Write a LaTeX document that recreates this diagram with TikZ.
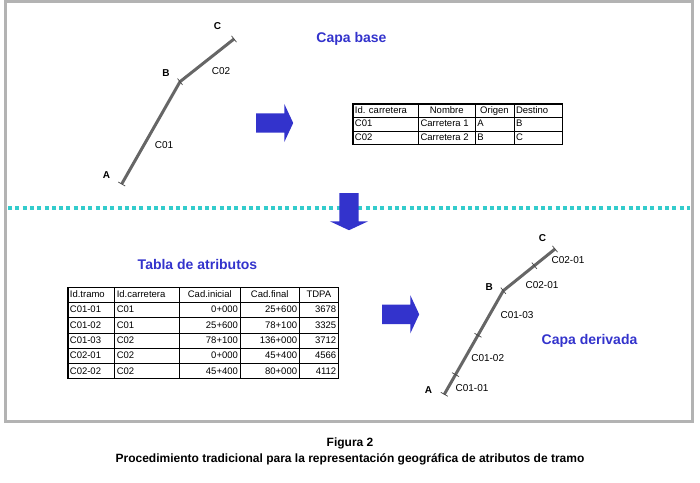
\documentclass[tikz,border=0pt]{standalone}
\usepackage{fontspec}
\setmainfont{Liberation Sans}
\usepackage{array}
\usetikzlibrary{calc}
\usetikzlibrary{shapes.arrows}
\definecolor{capablue}{RGB}{51,51,204}
\definecolor{framegray}{RGB}{179,179,179}
\definecolor{roadgray}{RGB}{102,102,102}
\definecolor{dotcyan}{RGB}{51,204,204}
\newcommand{\celc}[1]{\hspace*{\fill}#1\hspace*{\fill}}
\newcommand{\celr}[1]{\hspace*{\fill}#1}
\tikzset{
    outerframe/.style = {draw=framegray, line width=3pt},
    road/.style = {draw=roadgray, line width=3pt, line join=round},
    roadtick/.style = {draw=roadgray!70!black, line width=0.7pt},
    divider/.style = {draw=dotcyan, line width=4pt, dash pattern=on 4pt off 3.3pt},
    blockarrow/.style = {single arrow, fill=capablue, draw=none, inner xsep=0pt, inner ysep=9.5pt,
        minimum height=37pt, single arrow head extend=9.5pt, single arrow tip angle=130, anchor=tail},
    pointlabel/.style = {font=\bfseries\fontsize{10}{12}\selectfont, text=black, anchor=base, inner sep=0pt},
    seglabel/.style = {font=\fontsize{10}{12}\selectfont, text=black, anchor=base, inner sep=0pt},
    layertitle/.style = {font=\bfseries\fontsize{14}{16}\selectfont, text=capablue, anchor=base, inner sep=0pt},
    datatable/.style = {draw=black, line width=1.2pt, inner sep=0pt, anchor=north west},
    figcaption/.style = {font=\bfseries\fontsize{12}{13}\selectfont, anchor=base, inner sep=0pt}
}

\begin{document}
\begin{tikzpicture}[x=1pt, y=-1pt]
\useasboundingbox (0,0) rectangle (700,482);
\draw[outerframe] (5.5,1.5) rectangle (692.5,421.5);

% capa base
\coordinate (uA) at (121.7,184);
\coordinate (uB) at (180,81.7);
\coordinate (uC) at (234,39);
\draw[road] (uA) -- (uB) -- (uC);
\foreach \a/\b/\f in {uA/uB/0, uB/uC/0, uC/uB/0}
    \draw[roadtick] ($(\a)!\f!(\b)!4pt!90:(\b)$) -- ($(\a)!\f!(\b)!4pt!-90:(\b)$);
\node[pointlabel] (uAl) at (106.5,178) {A};
\node[pointlabel] (uBl) at (166,76) {B};
\node[pointlabel] (uCl) at (217.5,29) {C};
\node[seglabel] (uC01) at (164,148) {C01};
\node[seglabel] (uC02) at (221,74.3) {C02};
\node[layertitle] (base) at (351.5,42) {Capa base};

\node[blockarrow] (arrTop) at (256,123) {};

\node[datatable] (tabBase) at (352.3,103.3) {%
  \fontsize{9.5}{10}\selectfont\setlength\tabcolsep{2pt}\renewcommand\arraystretch{1.33}%
  \begin{tabular}{p{61.3pt}|p{52.3pt}|p{34.3pt}|p{44.7pt}}
    Id. carretera & \celc{Nombre} & \celc{Origen} & Destino \\\hline
    C01 & Carretera 1 & A & B \\\hline
    C02 & Carretera 2 & B & C
  \end{tabular}};

\draw[divider] (8,207.7) -- (690,207.7);
\node[blockarrow, rotate=-90] (arrDown) at (349,193) {};

% tabla de atributos
\node[layertitle] (tabla) at (197.5,269) {Tabla de atributos};
\node[datatable] (tabAttr) at (67.3,286.5) {%
  \fontsize{9.5}{10}\selectfont\setlength\tabcolsep{2pt}\renewcommand\arraystretch{1.49}%
  \begin{tabular}{p{42.5pt}|p{60.5pt}|p{56.2pt}|p{54.8pt}|p{34.7pt}}
    Id.tramo & Id.carretera & \celc{Cad.inicial} & \celc{Cad.final} & \celc{TDPA} \\\hline
    C01-01 & C01 & \celr{0+000} & \celr{25+600} & \celr{3678} \\\hline
    C01-02 & C01 & \celr{25+600} & \celr{78+100} & \celr{3325} \\\hline
    C01-03 & C02 & \celr{78+100} & \celr{136+000} & \celr{3712} \\\hline
    C02-01 & C02 & \celr{0+000} & \celr{45+400} & \celr{4566} \\\hline
    C02-02 & C02 & \celr{45+400} & \celr{80+000} & \celr{4112}
  \end{tabular}};

\node[blockarrow] (arrLow) at (382,314.3) {};

% capa derivada
\coordinate (lA) at (444.3,394.3);
\coordinate (lB) at (503.3,290.7);
\coordinate (lC) at (555,249);
\draw[road] (lA) -- (lB) -- (lC);
\foreach \a/\b/\f in {lA/lB/0, lA/lB/0.19, lA/lB/0.57, lB/lC/0, lB/lC/0.6, lC/lB/0}
    \draw[roadtick] ($(\a)!\f!(\b)!4pt!90:(\b)$) -- ($(\a)!\f!(\b)!4pt!-90:(\b)$);
\node[pointlabel] (lAl) at (428.5,393.3) {A};
\node[pointlabel] (lBl) at (489.3,290) {B};
\node[pointlabel] (lCl) at (542.5,241.7) {C};
\node[seglabel] (l0201a) at (568,263.7) {C02-01};
\node[seglabel] (l0201b) at (542,288.3) {C02-01};
\node[seglabel] (l0103) at (517,318.3) {C01-03};
\node[seglabel] (l0102) at (487.7,361.7) {C01-02};
\node[seglabel] (l0101) at (472,391.7) {C01-01};
\node[layertitle] (derivada) at (589.5,344) {Capa derivada};

\node[figcaption] (fig) at (350,446.5) {Figura 2};
\node[figcaption] (figText) at (350,462.7) {Procedimiento tradicional para la representación geográfica de atributos de tramo};
\end{tikzpicture}
\end{document}
